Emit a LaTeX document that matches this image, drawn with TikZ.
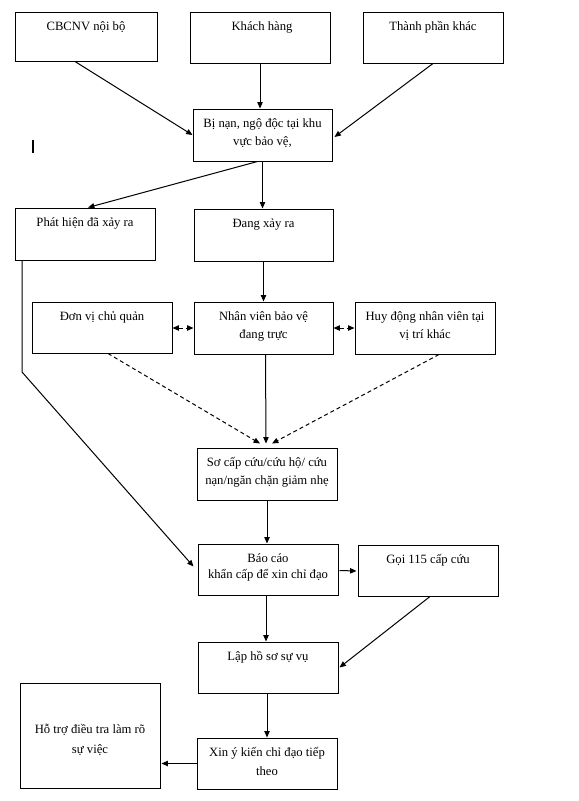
\documentclass[tikz,border=0pt]{standalone}
\usepackage{fontspec}
\setmainfont{Liberation Serif}
\usetikzlibrary{arrows.meta,fit,calc}
\tikzset{
  box/.style={draw, line width=0.75pt, inner sep=0pt, rectangle},
  txt/.style={font=\fontsize{9.5pt}{13.5pt}\selectfont, align=center, inner sep=0pt, anchor=north,
    execute at begin node=\rule{0pt}{10pt}},
  arr/.style={draw, line width=0.75pt, -{Triangle[length=4.8pt,width=4pt]}},
  darr/.style={draw, line width=0.75pt, dash pattern=on 3pt off 2.25pt, -{Triangle[length=4.8pt,width=4pt]}},
  ddarr/.style={draw, line width=0.75pt, dash pattern=on 3pt off 2.25pt, {Triangle[length=4.8pt,width=4pt]}-{Triangle[length=4.8pt,width=4pt]}}
}
\begin{document}
\begin{tikzpicture}[x=0.75pt,y=-0.75pt]
\useasboundingbox (0,0) rectangle (579,801);
% boxes
\node[box, fit={(15,12) (157,61)}] (cbcnv) {};
\node[box, fit={(190,12) (330,63)}] (khach) {};
\node[box, fit={(363,12) (503,63)}] (thanh) {};
\node[box, fit={(193,109) (332,161)}] (bian) {};
\node[box, fit={(15,208) (155,260)}] (phat) {};
\node[box, fit={(194,209) (333,261)}] (dang) {};
\node[box, fit={(32,302) (172,353)}] (donvi) {};
\node[box, fit={(194,302) (333,354)}] (nhanvien) {};
\node[box, fit={(355,302) (495,354)}] (huydong) {};
\node[box, fit={(197,448) (337,500)}] (socap) {};
\node[box, fit={(198,544) (338,595)}] (baocao) {};
\node[box, fit={(358,545) (498,596)}] (goi) {};
\node[box, fit={(198,642) (338,693)}] (lap) {};
\node[box, fit={(20,683) (160,788)}] (hotro) {};
\node[box, fit={(197,738) (337,789)}] (xin) {};
% texts
\node[txt] (tcbcnv) at ($(cbcnv.north)+(0,5)$) {CBCNV nội bộ};
\node[txt] (tkhach) at ($(khach.north)+(2,5)$) {Khách hàng};
\node[txt] (tthanh) at ($(thanh.north)+(0,5)$) {Thành phần khác};
\node[txt] (tbian) at ($(bian.north)+(0,10)$) {Bị nạn, ngộ độc tại khu\\vực bảo vệ,};
\node[txt] (tphat) at ($(phat.north)+(0,5)$) {Phát hiện đã xảy ra};
\node[txt] (tdang) at ($(dang.north)+(0,5)$) {Đang xảy ra};
\node[txt] (tdonvi) at ($(donvi.north)+(0,5)$) {Đơn vị chủ quản};
\node[txt] (tnhanvien) at ($(nhanvien.north)+(0,10)$) {Nhân viên bảo vệ\\đang trực};
\node[txt] (thuydong) at ($(huydong.north)+(0,10)$) {Huy động nhân viên tại\\vị trí khác};
\node[txt] (tsocap) at ($(socap.north)+(0,10)$) {Sơ cấp cứu/cứu hộ/ cứu\\nạn/ngăn chặn giảm nhẹ};
\node[txt, font=\fontsize{9.5pt}{12pt}\selectfont] (tbaocao) at ($(baocao.north)+(0,10)$) {Báo cáo\\khẩn cấp để xin chỉ đạo};
\node[txt] (tgoi) at ($(goi.north)+(0,5)$) {Gọi 115 cấp cứu};
\node[txt] (tlap) at ($(lap.north)+(0,5)$) {Lập hồ sơ sự vụ};
\node[txt, font=\fontsize{9.5pt}{15.5pt}\selectfont] (thotro) at ($(hotro.north)+(0,41)$) {Hỗ trợ điều tra làm rõ\\sự việc};
\node[txt, font=\fontsize{9.5pt}{13.8pt}\selectfont] (txin) at ($(xin.north)+(0,10)$) {Xin ý kiến chỉ đạo tiếp\\theo};
% cursor mark
\draw[line width=1.5pt] (33,140) -- (33,153);
% connectors
\draw[arr] ($(cbcnv.south)+(-11,0)$) -- (bian.west);
\draw[arr] (khach.south) -- (khach.south |- bian.north);
\draw[arr] (thanh.south) -- ($(bian.east)+(2,2)$);
\draw[arr] ($(bian.south)+(-5,0)$) -- ($(phat.north)+(3,0)$);
\draw[arr] (bian.south) -- (bian.south |- dang.north);
\draw[arr] (dang.south) -- (dang.south |- nhanvien.north);
\draw[ddarr] (donvi.east |- 0,328) -- (nhanvien.west |- 0,328);
\draw[ddarr] (nhanvien.east |- 0,328) -- (huydong.west |- 0,328);
\coordinate (bend) at (22,372);
\draw[arr] (phat.south -| bend) -- (bend) -- ($(baocao.west)+(-4,-3)$);
\draw[darr] ($(donvi.south)+(6,0)$) -- ($(socap.north)+(-7,-4)$);
\draw[darr] ($(huydong.south)+(14,0)$) -- ($(socap.north)+(5,-4)$);
\draw[arr] ($(nhanvien.south)+(2,0)$) -- ($(socap.north)+(-1,-4)$);
\draw[arr] (socap.south) -- (socap.south |- baocao.north);
\draw[arr] ($(baocao.east)+(1,1)$) -- ($(goi.west)+(-1,0.5)$);
\draw[arr] ($(baocao.south)+(-2,0)$) -- ($(lap.north)+(-2,0)$);
\draw[arr] ($(goi.south)+(2,0)$) -- ($(lap.east)+(1,0)$);
\draw[arr] ($(lap.south)+(-1,0)$) -- ($(xin.north)+(0,0)$);
\draw[arr] (xin.west) -- ($(xin.west -| hotro.east)+(1,0)$);
\end{tikzpicture}
\end{document}
